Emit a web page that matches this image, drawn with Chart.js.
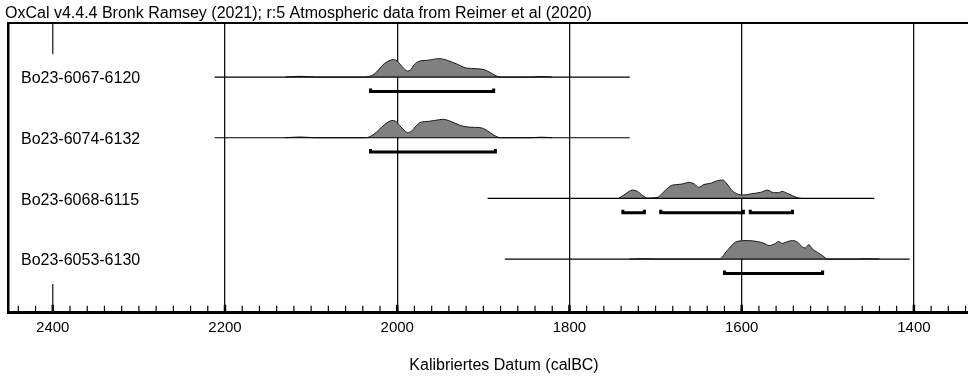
<!DOCTYPE html>
<html>
<head>
<meta charset="utf-8">
<script src="https://cdn.jsdelivr.net/npm/chart.js@4/dist/chart.umd.min.js"></script>
<style>
    html, body { margin: 0; padding: 0; background: #fff; overflow: hidden; }
    #wrap { width: 1007px; height: 381px; }
</style>
</head>
<body>
<div id="wrap"><canvas id="chart" width="1007" height="381"></canvas></div>
<script>
// Probenbezeichnungen (von oben nach unten)
const rowNames = ['Bo23-6067-6120', 'Bo23-6074-6132', 'Bo23-6068-6115', 'Bo23-6053-6130'];

// Wahrscheinlichkeitsverteilungen (Jahr calBC, relative Dichte)
const row1Years = [2130, 2112, 2095, 2039, 2027, 2015, 2008, 2004, 2000, 1994, 1988, 1985, 1980, 1975, 1965, 1951, 1942, 1930, 1920, 1907, 1899, 1891, 1884, 1878, 1845, 1833, 1820];
const row1Prob = [0, 0.04, 0, 0, 0.15, 0.73, 0.91, 0.95, 0.87, 0.55, 0.33, 0.36, 0.69, 0.85, 0.91, 1.0, 0.91, 0.69, 0.49, 0.45, 0.40, 0.22, 0.04, 0, 0, 0.03, 0];

const row2Years = [2130, 2112, 2095, 2037, 2027, 2015, 2006, 2002, 1997, 1992, 1988, 1983, 1978, 1973, 1963, 1951, 1947, 1938, 1928, 1920, 1909, 1901, 1895, 1888, 1880, 1845, 1833, 1820];
const row2Prob = [0, 0.04, 0, 0, 0.19, 0.70, 0.93, 0.90, 0.65, 0.41, 0.28, 0.37, 0.65, 0.83, 0.89, 0.98, 1.0, 0.89, 0.69, 0.59, 0.56, 0.52, 0.37, 0.15, 0, 0, 0.03, 0];

const row3Years = [1743, 1735, 1727, 1721, 1715, 1709, 1698, 1690, 1682, 1675, 1669, 1661, 1655, 1650, 1644, 1636, 1628, 1622, 1617, 1611, 1605, 1599, 1590, 1578, 1570, 1563, 1557, 1553, 1547, 1541, 1534, 1530];
const row3Prob = [0, 0.24, 0.45, 0.38, 0.15, 0.02, 0.05, 0.38, 0.69, 0.75, 0.78, 0.87, 0.78, 0.60, 0.75, 0.82, 0.96, 1.0, 0.78, 0.42, 0.24, 0.18, 0.24, 0.33, 0.45, 0.31, 0.31, 0.38, 0.27, 0.15, 0.02, 0];

const row4Years = [1730, 1715, 1700, 1626, 1617, 1609, 1605, 1593, 1582, 1574, 1568, 1562, 1557, 1553, 1549, 1541, 1535, 1530, 1526, 1522, 1518, 1512, 1506, 1500, 1470, 1455, 1440];
const row4Prob = [0, 0.02, 0, 0, 0.45, 0.85, 0.96, 1.0, 0.95, 0.85, 0.73, 0.82, 0.95, 0.85, 0.91, 1.0, 0.91, 0.67, 0.60, 0.78, 0.55, 0.36, 0.18, 0, 0, 0.02, 0];

// Bereich der Grundlinie je Probe
const rowSpans = [[2212, 1730], [2212, 1730], [1895, 1446], [1875, 1405]];

// Intervalle (95,4 %)
const row1Ranges = [[2031, 1888]];
const row2Ranges = [[2031, 1886]];
const row3Ranges = [[1738, 1713], [1694, 1598], [1590, 1541]];
const row4Ranges = [[1620, 1506]];

// Achse
const axisMin = 1300;
const axisMax = 2452;
const minorStep = 20;
const majorStep = 200;

const FONT = "'Liberation Sans', Arial, sans-serif";
const Y_MIN = 0.112;
const Y_MAX = 4.873;
const PEAK = 0.304;
const BRACKET = 0.237;
const CAP = 0.05;

const rows = [
    { years: row1Years, prob: row1Prob, ranges: row1Ranges },
    { years: row2Years, prob: row2Prob, ranges: row2Ranges },
    { years: row3Years, prob: row3Prob, ranges: row3Ranges },
    { years: row4Years, prob: row4Prob, ranges: row4Ranges },
];

const datasets = [];

rows.forEach((row, i) => {
    const base = i + 1;

    // Grundlinie
    datasets.push({
        data: rowSpans[i].map((yr) => ({ x: yr, y: base })),
        borderColor: '#000',
        borderWidth: 1.2,
        pointRadius: 0,
        fill: false,
        order: 1,
    });

    // Verteilung
    datasets.push({
        data: row.years.map((yr, k) => ({ x: yr, y: base - row.prob[k] * PEAK })),
        borderColor: '#1a1a1a',
        borderWidth: 1,
        backgroundColor: '#808080',
        pointRadius: 0,
        cubicInterpolationMode: 'monotone',
        fill: { value: base },
        order: 2,
    });

    // Klammern
    row.ranges.forEach((r) => {
        const yb = base + BRACKET;
        datasets.push({
            data: [
                { x: r[0], y: yb - CAP },
                { x: r[0], y: yb },
                { x: r[1], y: yb },
                { x: r[1], y: yb - CAP },
            ],
            borderColor: '#000',
            borderWidth: 3,
            pointRadius: 0,
            tension: 0,
            fill: false,
            order: 1,
        });
    });
});

// Teilstücke der 2400er Linie
datasets.push({
    data: [{ x: 2400, y: Y_MIN }, { x: 2400, y: 0.624 }],
    borderColor: '#222', borderWidth: 1.3, pointRadius: 0, fill: false,
});
datasets.push({
    data: [{ x: 2400, y: 4.41 }, { x: 2400, y: Y_MAX }],
    borderColor: '#222', borderWidth: 1.3, pointRadius: 0, fill: false,
});

// Teilstriche
const tickValues = [];
for (let v = axisMin; v <= axisMax; v += minorStep) {
    tickValues.push(v);
}
datasets.push({
    data: tickValues.map((v) => ({ x: v, y: Y_MAX - 0.055 })),
    showLine: false,
    pointStyle: 'line',
    rotation: 90,
    pointRadius: (ctx) => (tickValues[ctx.dataIndex] % majorStep === 0 ? 4 : 2.8),
    pointBorderWidth: (ctx) => (tickValues[ctx.dataIndex] % majorStep === 0 ? 2.5 : 1.2),
    pointBorderColor: '#000',
    pointHoverRadius: 0,
});

const ctx = document.getElementById('chart').getContext('2d');
new Chart(ctx, {
    type: 'line',
    data: { datasets },
    options: {
        responsive: false,
        animation: false,
        devicePixelRatio: 1,
        layout: { padding: { left: 5, right: 0, top: 0, bottom: 0 } },
        plugins: {
            legend: { display: false },
            tooltip: { enabled: false },
            title: {
                display: true,
                text: 'OxCal v4.4.4 Bronk Ramsey (2021); r:5 Atmospheric data from Reimer et al (2020)',
                align: 'start',
                color: '#000',
                font: { family: FONT, size: 16, weight: 'normal' },
                padding: { top: 4, bottom: 0 },
            },
        },
        scales: {
            x: {
                type: 'linear',
                position: 'bottom',
                reverse: true,
                min: axisMin,
                max: axisMax,
                border: { display: true, color: '#000', width: 3 },
                grid: {
                    drawTicks: false,
                    color: (c) => {
                        const v = c.tick && c.tick.value;
                        return (v % majorStep === 0 && v !== 2400) ? '#111' : 'rgba(0,0,0,0)';
                    },
                    lineWidth: 1.3,
                },
                ticks: {
                    stepSize: minorStep,
                    autoSkip: false,
                    maxRotation: 0,
                    padding: 7,
                    color: '#000',
                    font: { family: FONT, size: 15 },
                    callback: (v) => (v % majorStep === 0 ? String(v) : ''),
                },
                title: {
                    display: true,
                    text: 'Kalibriertes Datum (calBC)',
                    color: '#000',
                    font: { family: FONT, size: 16 },
                    padding: { top: 12.4, bottom: 5.4 },
                },
            },
            x2: {
                type: 'linear',
                position: 'top',
                reverse: true,
                min: axisMin,
                max: axisMax,
                display: true,
                border: { display: true, color: '#000', width: 2 },
                grid: { display: false, drawTicks: false },
                ticks: { display: false },
            },
            y: {
                type: 'linear',
                reverse: true,
                min: Y_MIN,
                max: Y_MAX,
                border: { display: true, color: '#000', width: 2.5 },
                grid: { display: false, drawTicks: false },
                afterBuildTicks: (scale) => {
                    scale.ticks = rowNames.map((n, i) => ({ value: i + 1 }));
                },
                afterFit: (scale) => {
                    scale.width = 3;
                },
                ticks: {
                    mirror: true,
                    padding: 13,
                    labelOffset: 2,
                    color: '#000',
                    font: { family: FONT, size: 16 },
                    callback: (v) => rowNames[v - 1],
                },
            },
        },
    },
});
</script>
</body>
</html>
